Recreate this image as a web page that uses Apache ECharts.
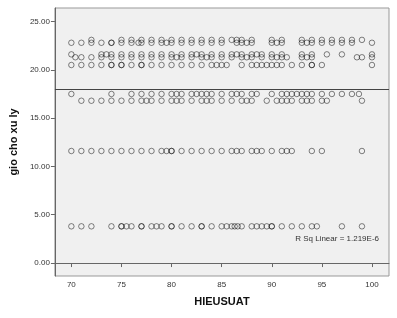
<!DOCTYPE html>
<html><head><meta charset="utf-8">
<script src="https://cdn.jsdelivr.net/npm/echarts@6/dist/echarts.min.js"></script>
<style>html,body{margin:0;padding:0;background:#fff}#c{width:397px;height:318px}</style>
</head><body><div id="c"></div>
<script>
// y levels (gio cho xu ly) and the HIEUSUAT values found at each level
const levels = [23.1, 22.8, 21.6, 21.3, 20.5, 17.5, 16.8, 11.6, 3.8];
const row231 = [72,75,76,77,78,79,80,81,82,83,84,85,86,86.5,87,88,90,91,93,94,95,96,97,98,99];
const row228 = [70,71,72,73,74,74,75,76,76.7,77,78,79,79.5,80,81,82,83,84,85,86.5,87,87.5,88,90,90.5,91,93,93.5,94,95,96,97,98,100];
const row216 = [70,73,73.5,74,75,76,77,78,79,80,81,82,82.5,83,84,85,86,86.5,87,88,88.5,89,90,91,93,94,95.5,97,100];
const row213 = [70.4,71,72,73,74,75,76,77,78,79,80,80.5,81,82,83,83.5,84,85,86,87,87.5,88,89,90,90.5,91,91.5,93,93.5,94,98.5,99,100];
const row205 = [70,71,72,73,74,74,75,75,76,77,77,78,79,80,81,82,83,84,84.5,85,85.5,87,88,88.5,89,89.5,90,90.5,91,92,93,94,94,95,100];
const row175 = [70,74,76,77,78,79,80,80.5,81,82,82.5,83,83.5,84,85,86,86.5,87,88,88.5,90,91,91.5,92,92.5,93,93.5,94,95,96,97,98,98.7];
const row168 = [71,72,73,74,75,76,77,77.5,78,79,80,80.5,81,82,83,83.5,84,85,86,87,87.5,88,89.5,90.5,91,91.5,92,93,93.5,94,95,95.5,99];
const row116 = [70,71,72,73,74,75,76,77,78,79,79.5,80,80,81,82,83,84,85,86,86.5,87,88,88.5,89,90,91,91.5,92,94,95,99];
const row38  = [70,71,72,74,75,75,75.5,76,77,77,78,78.5,79,80,80,81,82,83,83,84,85,85.5,86,86.3,86.6,87,88,88.5,89,89.5,90,90,91,92,93,94,94.5,97,99];
const rows = [row231,row228,row216,row213,row205,row175,row168,row116,row38];
const fitValue = 18.04;           // R Sq Linear fit (flat line)
const rSqText = 'R Sq Linear = 1.219E-6';
const xTicks = [70,75,80,85,90,95,100];
const yTicks = [0,5,10,15,20,25];
const xTitle = 'HIEUSUAT';
const yTitle = 'gio cho xu ly';

const points = [];
rows.forEach((r, i) => r.forEach(x => points.push([x, levels[i]])));

const chart = echarts.init(document.getElementById('c'), null, {renderer: 'canvas'});
const lblFont = {fontFamily: 'Liberation Sans, Arial, sans-serif', fontSize: 8, color: '#333'};
chart.setOption({
  animation: false,
  backgroundColor: '#fff',
  grid: {left: 50, right: 8, top: 8, bottom: 42, show: true, backgroundColor: '#f0f0f0', borderColor: '#999', borderWidth: 1},
  xAxis: {
    type: 'value', min: 68.36, max: 101.7,
    name: xTitle, nameLocation: 'middle', nameGap: 20,
    nameTextStyle: {fontFamily: 'Liberation Sans, Arial, sans-serif', fontSize: 11, fontWeight: 'bold', color: '#111'},
    axisLine: {show: true, lineStyle: {color: '#666', width: 1}},
    axisTick: {show: true, length: 4, customValues: xTicks, lineStyle: {color: '#666'}},
    axisLabel: Object.assign({customValues: xTicks, margin: 5}, lblFont),
    splitLine: {show: false}
  },
  yAxis: {
    type: 'value', min: -1.34, max: 26.4,
    name: yTitle, nameLocation: 'middle', nameGap: 27, nameRotate: 90,
    nameTextStyle: {fontFamily: 'Liberation Sans, Arial, sans-serif', fontSize: 11, fontWeight: 'bold', color: '#111'},
    axisLine: {show: true, lineStyle: {color: '#666', width: 1}},
    axisTick: {show: true, length: 4, customValues: yTicks, lineStyle: {color: '#666'}},
    axisLabel: Object.assign({customValues: yTicks, margin: 5, formatter: v => v.toFixed(2)}, lblFont),
    splitLine: {show: false}
  },
  series: [{
    type: 'scatter', data: points, symbol: 'circle', symbolSize: 5.5,
    itemStyle: {color: 'rgba(0,0,0,0)', borderColor: 'rgba(0,0,0,0.6)', borderWidth: 1},
    silent: true,
    markLine: {
      silent: true, symbol: 'none', label: {show: false},
      lineStyle: {color: '#444', width: 1, type: 'solid'},
      data: [{yAxis: fitValue}]
    }
  }],
  graphic: [{
    type: 'text', right: 18, top: 235,
    style: {text: rSqText, fontFamily: 'Liberation Sans, Arial, sans-serif', fontSize: 8, fill: '#333'}
  }]
});
</script></body></html>
